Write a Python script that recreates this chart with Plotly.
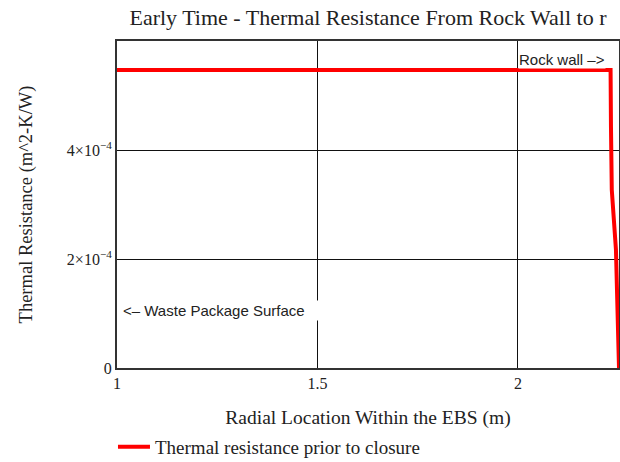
import plotly.graph_objects as go

# Data
radius_m = [1.0, 2.231, 2.232, 2.234, 2.2444, 2.2469, 2.252]
resistance = [5.47e-4, 5.47e-4, 4.42e-4, 3.27e-4, 2.17e-4, 1.25e-4, 0.0]

x_tickvals = [1, 1.5, 2]
x_ticktext = ["1", "1.5", "2"]
y_tickvals = [0, 2e-4, 4e-4]
y_ticktext = ["0", "2×10<sup>−4</sup>", "4×10<sup>−4</sup>"]

serif = "Liberation Serif"
ink = "#222222"

fig = go.Figure()
fig.add_trace(go.Scatter(
    x=radius_m, y=resistance, mode="lines",
    line=dict(color="#ff0000", width=4),
    name="Thermal resistance prior to closure",
))

fig.update_layout(
    width=620, height=462,
    margin=dict(l=117, r=1, t=41, b=94, autoexpand=False),
    paper_bgcolor="white", plot_bgcolor="white",
    font=dict(family=serif, color=ink, size=16),
    title=dict(text="Early Time - Thermal Resistance From Rock Wall to r",
               x=0.5, xref="paper", xanchor="center", y=0.962, yanchor="middle",
               font=dict(family=serif, size=22, color=ink)),
    showlegend=True,
    legend=dict(x=-0.008, y=-0.2416, xanchor="left", yanchor="middle",
                font=dict(family=serif, size=19, color=ink),
                bgcolor="rgba(0,0,0,0)", itemwidth=32),
    xaxis=dict(range=[1, 2.252], tickvals=x_tickvals, ticktext=x_ticktext,
               showgrid=True, gridcolor="#111111", gridwidth=1,
               zeroline=False, showline=True, linecolor="#333333", linewidth=2,
               mirror=True, ticks="", ticklen=0, automargin=False,
               tickfont=dict(family=serif, size=16, color=ink),
               title=dict(text="Radial Location Within the EBS (m)",
                          font=dict(family=serif, size=19.5, color=ink), standoff=19)),
    yaxis=dict(range=[0, 6.0e-4], tickvals=y_tickvals, ticktext=y_ticktext,
               showgrid=True, gridcolor="#111111", gridwidth=1,
               zeroline=False, showline=True, linecolor="#333333", linewidth=2,
               mirror=True, ticks="", ticklen=0, automargin=False,
               tickfont=dict(family=serif, size=16, color=ink),
               title=dict(text="Thermal Resistance (m^2-K/W)",
                          font=dict(family=serif, size=18.5, color=ink), standoff=29)),
)

fig.add_annotation(x=2.22, y=5.66e-4, xref="x", yref="y",
                   text="Rock wall –>", showarrow=False,
                   xanchor="right", yanchor="middle",
                   bgcolor="white", borderpad=0,
                   font=dict(family="Liberation Sans", size=15, color=ink))
fig.add_annotation(x=1.01, y=1.05e-4, xref="x", yref="y",
                   text="<– Waste Package Surface&nbsp;&nbsp;&nbsp;", showarrow=False,
                   xanchor="left", yanchor="middle",
                   bgcolor="white", borderpad=1,
                   font=dict(family="Liberation Sans", size=15, color=ink))

fig.write_html("out.html")
